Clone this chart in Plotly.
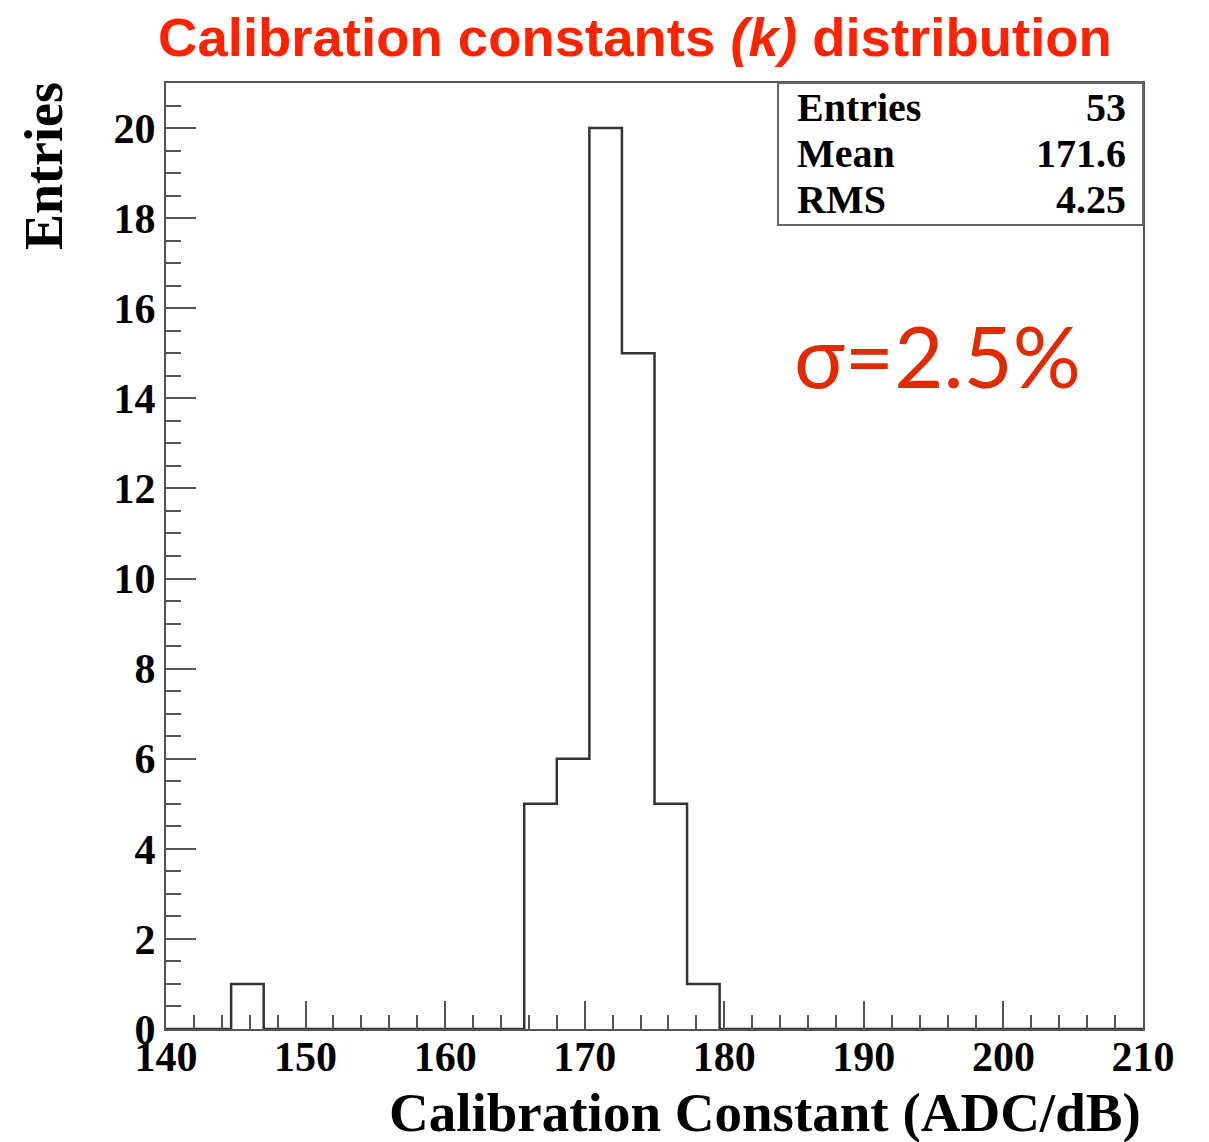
import plotly.graph_objects as go

# ---- data ----
x_min = 140.0
x_max = 210.0
n_bins = 30
counts = [0, 0, 1, 0, 0, 0, 0, 0, 0, 0,
          0, 5, 6, 20, 15, 5, 1, 0, 0, 0,
          0, 0, 0, 0, 0, 0, 0, 0, 0, 0]
stat_labels = ["Entries", "Mean", "RMS"]
stat_values = ["53", "171.6", "4.25"]
x_ticks = [140, 150, 160, 170, 180, 190, 200, 210]
y_ticks = [0, 2, 4, 6, 8, 10, 12, 14, 16, 18, 20]

# build step outline from bins
w = (x_max - x_min) / n_bins
xs, ys = [], []
for i, c in enumerate(counts):
    lo = x_min + i * w
    hi = lo + w
    xs += [lo, hi]
    ys += [c, c]

W, H = 1209, 1142
L, R, T, B = 166, 1143, 83, 1029

def px_x(p):
    return (p - L) / (R - L)

def px_y(p):
    return (B - p) / (B - T)

serif = "Liberation Serif"
fig = go.Figure()
fig.add_trace(go.Scatter(x=xs, y=ys, mode="lines",
                         line=dict(color="#333333", width=2.5),
                         hoverinfo="skip", showlegend=False))

fig.update_layout(
    width=W, height=H,
    margin=dict(l=L, r=W - R, t=T, b=H - B),
    plot_bgcolor="white", paper_bgcolor="white",
    title=dict(text="Calibration constants <i>(k)</i> distribution",
               font=dict(family="Liberation Sans", size=54.5, color="#FF2200", weight="bold"),
               x=635 / W, xanchor="center", xref="container",
               y=1 - 37 / H, yanchor="middle", yref="container"),
    showlegend=False,
)

fig.update_xaxes(range=[x_min, x_max], tickvals=x_ticks, ticks="inside", ticklen=28,
                 tickwidth=2, tickcolor="#555555", ticklabelstandoff=-10,
                 minor=dict(dtick=2, ticks="inside", ticklen=14, tickwidth=2, tickcolor="#555555"),
                 showline=True, linecolor="#555555", linewidth=2, mirror=True,
                 showgrid=False, zeroline=False,
                 tickfont=dict(family=serif, size=42, color="black", weight="bold"))
fig.update_yaxes(range=[0, 21], tickvals=y_ticks, ticks="inside", ticklen=30,
                 tickwidth=2, tickcolor="#555555",
                 minor=dict(dtick=0.5, ticks="inside", ticklen=15, tickwidth=2, tickcolor="#555555"),
                 showline=True, linecolor="#555555", linewidth=2, mirror=True,
                 showgrid=False, zeroline=False,
                 tickfont=dict(family=serif, size=42, color="black", weight="bold"))

# axis titles (ROOT style, aligned to axis ends)
fig.add_annotation(text="Calibration Constant (ADC/dB)", xref="paper", yref="paper",
                   x=1.0, y=px_y(1112), xanchor="right", yanchor="middle", showarrow=False,
                   font=dict(family=serif, size=55, color="black", weight="bold"))
fig.add_annotation(text="Entries", xref="paper", yref="paper", textangle=-90,
                   x=px_x(44), y=px_y(80), xanchor="center", yanchor="top", showarrow=False,
                   font=dict(family=serif, size=54, color="black", weight="bold"))

# stats box
fig.add_shape(type="rect", xref="paper", yref="paper",
              x0=px_x(778), x1=1.0, y0=px_y(225), y1=1.0,
              line=dict(color="#666666", width=2), fillcolor="white", layer="above")
row_y = [108, 154, 200]
for lab, val, ry in zip(stat_labels, stat_values, row_y):
    fig.add_annotation(text=lab, xref="paper", yref="paper", x=px_x(795), y=px_y(ry),
                       xanchor="left", yanchor="middle", showarrow=False,
                       font=dict(family=serif, size=40, color="black", weight="bold"))
    fig.add_annotation(text=val, xref="paper", yref="paper", x=px_x(1128), y=px_y(ry),
                       xanchor="right", yanchor="middle", showarrow=False,
                       font=dict(family=serif, size=40, color="black", weight="bold"))

# sigma note
fig.add_annotation(text="σ=2.5%", xref="paper", yref="paper", x=px_x(937), y=px_y(355),
                   xanchor="center", yanchor="middle", showarrow=False,
                   font=dict(family="Lato", size=85, color="#E22A00"))

fig.write_html("out.html")
